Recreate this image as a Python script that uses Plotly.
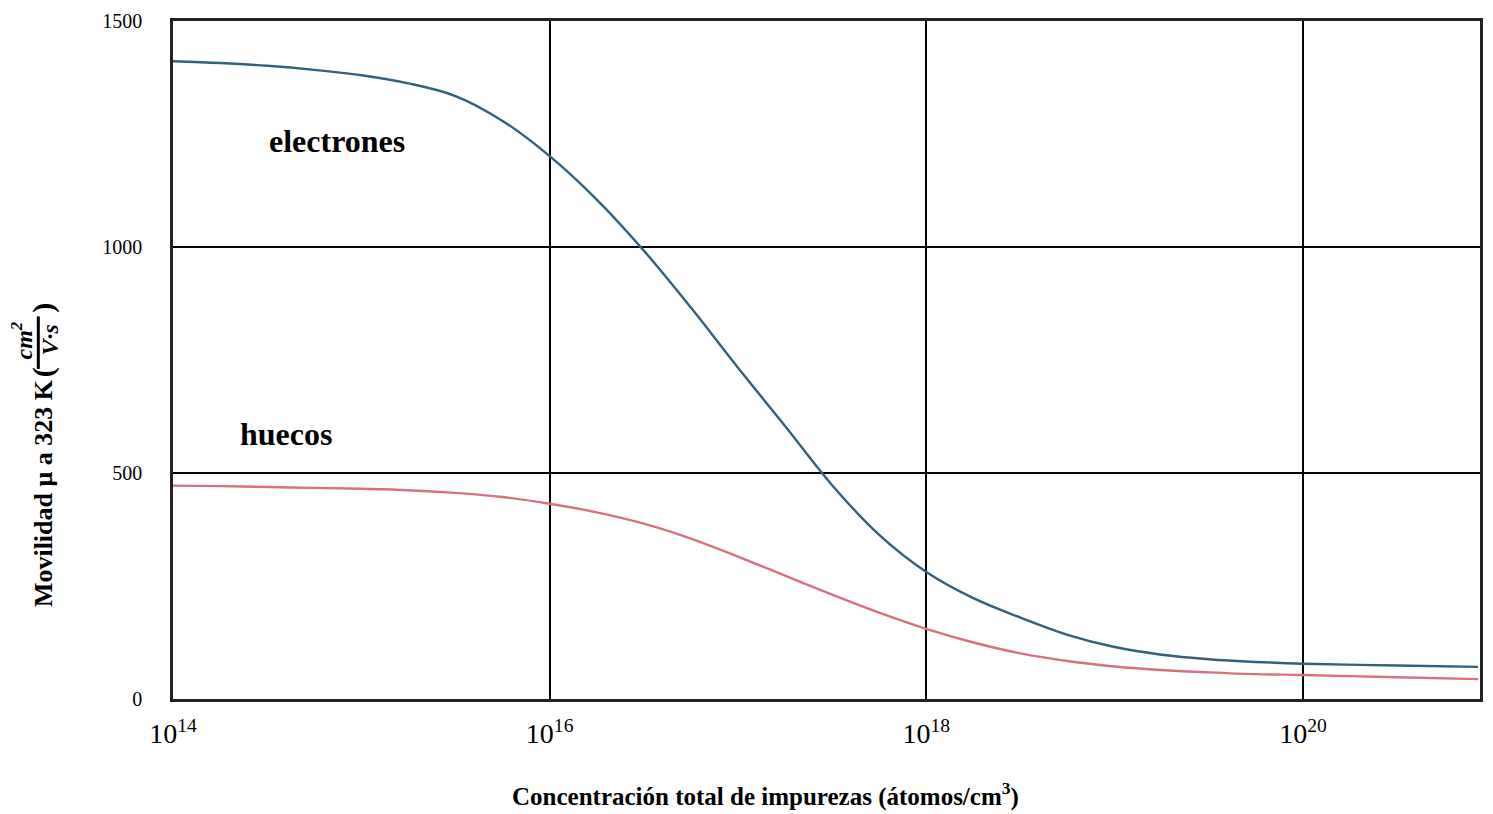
import plotly.graph_objects as go

# Data (quarter-decade steps)
concentracion = [1e14, 1.778e14, 3.162e14, 5.623e14,
                 1e15, 1.778e15, 3.162e15, 5.623e15,
                 1e16, 1.778e16, 3.162e16, 5.623e16,
                 1e17, 1.778e17, 3.162e17, 5.623e17,
                 1e18, 1.778e18, 3.162e18, 5.623e18,
                 1e19, 1.778e19, 3.162e19, 5.623e19,
                 1e20, 3.162e20, 8.5e20]
mov_electrones = [1411, 1407, 1401, 1392,
                  1380, 1362, 1334, 1279,
                  1201, 1105, 992, 866,
                  733, 604, 473, 363,
                  281, 223, 180, 142,
                  115, 98, 88, 82,
                  78, 74, 71]
mov_huecos = [472, 471, 469, 467,
              465, 462, 456, 447,
              432, 413, 388, 355,
              315, 273, 231, 191,
              155, 125, 101, 84,
              72, 64, 59, 55,
              53, 48, 44]

x_tickvals = [1e14, 1e16, 1e18, 1e20]
x_ticktext = ["10<sup>14</sup>", "10<sup>16</sup>", "10<sup>18</sup>", "10<sup>20</sup>"]
y_tickvals = [0, 500, 1000, 1500]
y_ticktext = ["0", "500", "1000", "1500"]

FONT = "Liberation Serif, Times New Roman, serif"
W, H = 1493, 814
ML, MR, MT, MB = 173, 10, 15, 115
PW, PH = W - ML - MR, H - MT - MB


def px(xp):
    return (xp - ML) / PW


def py(yp):
    return (H - MB - yp) / PH


fig = go.Figure()
fig.add_trace(go.Scatter(x=concentracion, y=mov_electrones, mode="lines",
                         line=dict(color="#33607a", width=2.4, shape="spline", smoothing=1),
                         name="electrones", showlegend=False, hoverinfo="skip"))
fig.add_trace(go.Scatter(x=concentracion, y=mov_huecos, mode="lines",
                         line=dict(color="#d9707e", width=2.4, shape="spline", smoothing=1),
                         name="huecos", showlegend=False, hoverinfo="skip"))

fig.update_layout(
    width=W, height=H,
    margin=dict(l=ML, r=MR, t=MT, b=MB),
    paper_bgcolor="white", plot_bgcolor="white",
    font=dict(family=FONT, color="black"),
    showlegend=False,
)
fig.update_xaxes(
    type="log", range=[14, 20.94],
    tickvals=x_tickvals, ticktext=x_ticktext,
    tickfont=dict(size=28, family=FONT),
    showgrid=True, gridcolor="black", gridwidth=2,
    showline=True, linecolor="#222", linewidth=2.5, mirror=True,
    ticks="", ticklabelstandoff=8, zeroline=False,
)
fig.update_yaxes(
    range=[0, 1500],
    tickvals=y_tickvals, ticktext=y_ticktext,
    tickfont=dict(size=20, family=FONT),
    showgrid=True, gridcolor="black", gridwidth=2,
    showline=True, linecolor="#222", linewidth=2.5, mirror=True,
    ticks="", ticklabelstandoff=24, zeroline=False,
)

fig.add_annotation(x=14.87, y=1234, xref="x", yref="y", text="<b>electrones</b>",
                   showarrow=False, font=dict(size=32, family=FONT, color="black"))
fig.add_annotation(x=14.6, y=587, xref="x", yref="y", text="<b>huecos</b>",
                   showarrow=False, font=dict(size=32, family=FONT, color="black"))

# y-axis title with stacked fraction
fig.add_annotation(x=px(44), y=py(491), xref="paper", yref="paper",
                   text="<b>Movilidad μ a 323 K</b>",
                   textangle=-90, showarrow=False, xanchor="center", yanchor="middle",
                   font=dict(size=26, family=FONT, color="black"))
fig.add_annotation(x=px(43), y=py(369), xref="paper", yref="paper",
                   text="<b>(</b>", textangle=-90, showarrow=False,
                   xanchor="center", yanchor="middle",
                   font=dict(size=30, family=FONT, color="black"))
fig.add_annotation(x=px(43), y=py(304), xref="paper", yref="paper",
                   text="<b>)</b>", textangle=-90, showarrow=False,
                   xanchor="center", yanchor="middle",
                   font=dict(size=30, family=FONT, color="black"))
fig.add_annotation(x=px(22), y=py(337), xref="paper", yref="paper",
                   text="<b><i>cm<sup>2</sup></i></b>", textangle=-90, showarrow=False,
                   xanchor="center", yanchor="middle",
                   font=dict(size=24, family=FONT, color="black"))
fig.add_annotation(x=px(50), y=py(337), xref="paper", yref="paper",
                   text="<b><i>V·s</i></b>", textangle=-90, showarrow=False,
                   xanchor="center", yanchor="middle",
                   font=dict(size=24, family=FONT, color="black"))
fig.add_shape(type="line", xref="paper", yref="paper",
              x0=px(38), x1=px(38), y0=py(313), y1=py(366),
              line=dict(color="black", width=3))

fig.add_annotation(x=px(767), y=py(795), xref="paper", yref="paper",
                   text="<b>Concentración total de impurezas (átomos/cm<sup>3</sup>)</b>",
                   showarrow=False, xanchor="center", yanchor="middle",
                   font=dict(size=25, family=FONT, color="black"))

fig.write_html("out.html", config={"displayModeBar": False},
               post_script="document.body.style.margin='0';")
